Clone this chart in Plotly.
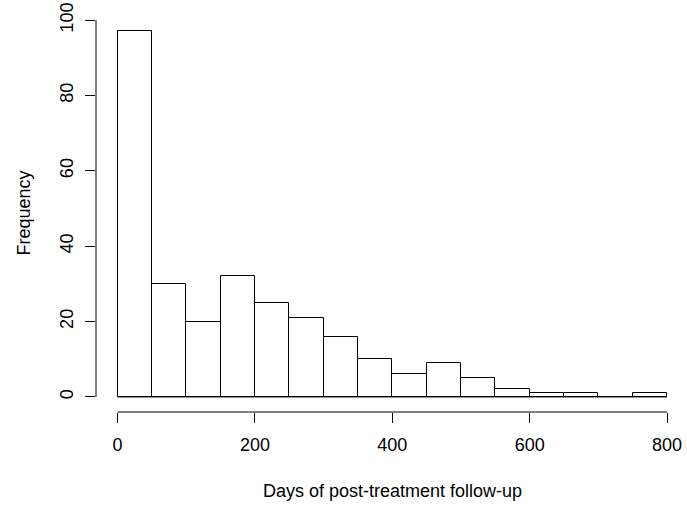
import plotly.graph_objects as go

bin_edges = [0, 50, 100, 150, 200, 250, 300, 350, 400, 450, 500, 550, 600, 650, 700, 750, 800]
counts = [97, 30, 20, 32, 25, 21, 16, 10, 6, 9, 5, 2, 1, 1, 0, 1]
x_ticks = [0, 200, 400, 600, 800]
y_ticks = [0, 20, 40, 60, 80, 100]
x_title = "Days of post-treatment follow-up"
y_title = "Frequency"

centers = [(a + b) / 2 for a, b in zip(bin_edges[:-1], bin_edges[1:])]
widths = [b - a for a, b in zip(bin_edges[:-1], bin_edges[1:])]

FONT = "Liberation Sans, Arial, Helvetica, sans-serif"

fig = go.Figure()
fig.add_trace(go.Bar(
    x=centers, y=counts, width=widths,
    marker=dict(color="white", line=dict(color="black", width=1)),
    hoverinfo="x+y",
))
# bottom edges of the histogram rectangles (visible where a bin is empty)
fig.add_trace(go.Scatter(
    x=[bin_edges[0], bin_edges[-1]], y=[0, 0], mode="lines",
    line=dict(color="black", width=1), hoverinfo="skip",
))

# R-style axis lines spanning first to last tick
fig.add_shape(type="line", xref="x", yref="paper", x0=x_ticks[0], x1=x_ticks[-1], y0=0, y1=0,
              line=dict(color="black", width=1))
fig.add_shape(type="line", xref="paper", yref="y", x0=0, x1=0, y0=y_ticks[0], y1=y_ticks[-1],
              line=dict(color="black", width=1))

fig.add_annotation(text=x_title, xref="x", yref="paper", x=400, y=-0.194,
                   xanchor="center", yanchor="middle", showarrow=False,
                   font=dict(family=FONT, size=18, color="black"))
fig.add_annotation(text=y_title, xref="paper", yref="paper", x=-0.1233, y=0.49,
                   xanchor="center", yanchor="middle", showarrow=False, textangle=-90,
                   font=dict(family=FONT, size=18, color="black"))

fig.update_layout(
    width=687, height=507,
    margin=dict(l=96, r=7, t=5, b=95),
    paper_bgcolor="white", plot_bgcolor="white",
    font=dict(family=FONT, size=18, color="black"),
    showlegend=False,
    bargap=0,
    xaxis=dict(
        range=[-31.3, 818.8], showgrid=False, zeroline=False, showline=False,
        automargin=False,
        tickmode="array", tickvals=x_ticks, ticktext=[str(v) for v in x_ticks],
        ticks="outside", ticklen=10, tickwidth=1, tickcolor="black",
        ticklabelstandoff=6,
    ),
    yaxis=dict(
        range=[-4, 104], showgrid=False, zeroline=False, showline=False,
        automargin=False,
        tickmode="array", tickvals=y_ticks, ticktext=[str(v) for v in y_ticks],
        ticks="outside", ticklen=10, tickwidth=1, tickcolor="black", tickangle=-90,
        ticklabelstandoff=5,
    ),
)

fig.write_html("out.html", config={"displayModeBar": False},
               post_script="document.body.style.margin='0';document.body.style.overflow='hidden';")
